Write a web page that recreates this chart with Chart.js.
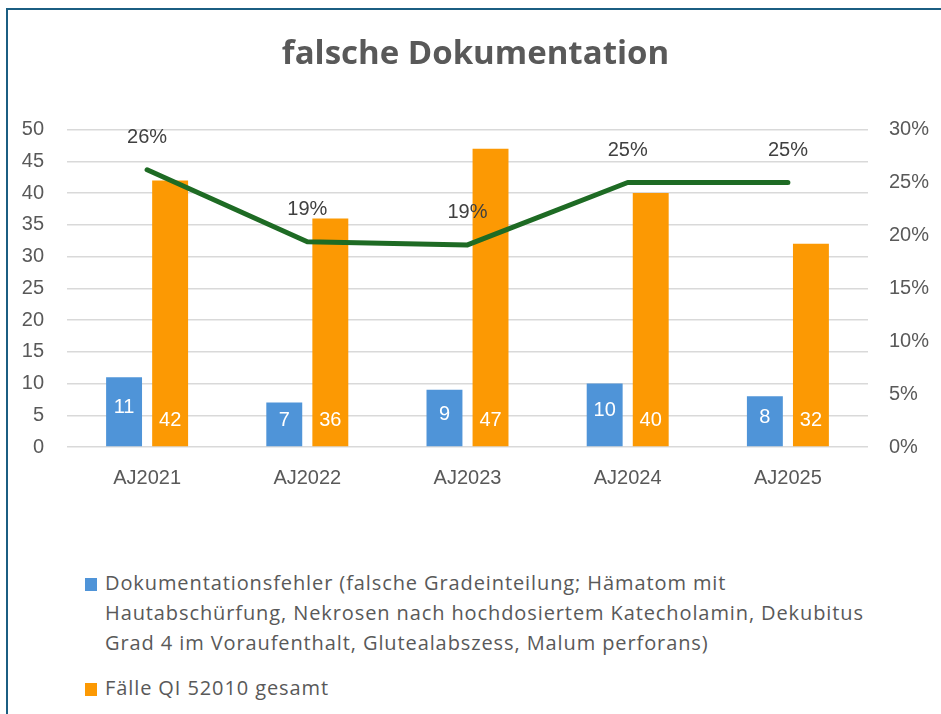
<!DOCTYPE html>
<html lang="de">
<head>
<meta charset="utf-8">
<title>falsche Dokumentation</title>
<script src="https://cdn.jsdelivr.net/npm/chart.js@4/dist/chart.umd.min.js"></script>
<style>
    html, body { margin: 0; padding: 0; background: #fff; }
    body { width: 941px; height: 714px; position: relative; overflow: hidden; }
    .frame {
        position: absolute; left: 6px; top: 8px; right: 0; bottom: 0;
        border-left: 2px solid #1b5e82; border-top: 2px solid #1b5e82;
    }
    #chartWrap { position: absolute; left: 0; top: 0; width: 941px; height: 520px; }
    #legend {
        position: absolute; left: 85px; top: 568px; width: 810px;
        font-family: 'Open Sans', sans-serif; font-size: 20px; line-height: 30px;
        letter-spacing: 0.9px; color: #595959;
    }
    .lg-item { position: relative; padding-left: 20px; margin-bottom: 15px; }
    .lg-box { position: absolute; left: 0; top: 10px; width: 12px; height: 13px; }
</style>
</head>
<body>
<div class="frame"></div>
<div id="chartWrap"><canvas id="docChart" width="941" height="520"></canvas></div>
<div id="legend"></div>

<script>
// ── Data ──────────────────────────────────────────────────────
const categories = ['AJ2021', 'AJ2022', 'AJ2023', 'AJ2024', 'AJ2025'];
const errorCounts = [11, 7, 9, 10, 8];
const caseCounts  = [42, 36, 47, 40, 32];
const errorRate   = [26.2, 19.4, 19.1, 25.0, 25.0];   // % (right axis)
const seriesNames = [
    'Dokumentationsfehler (falsche Gradeinteilung; Hämatom mit Hautabschürfung, Nekrosen nach hochdosiertem Katecholamin, Dekubitus Grad 4 im Voraufenthalt, Glutealabszess, Malum perforans)',
    'Fälle QI 52010 gesamt',
];
const countAxisMax = 50;
const rateAxisMax  = 30;

const BLUE   = '#4f94d8';
const ORANGE = '#fc9903';
const GREEN  = '#1e6b24';
const GREY   = '#595959';
const AXIS_FONT = { family: "'Liberation Sans', Arial, sans-serif", size: 20 };

// ── Labels on bars and line points ────────────────────────────
const valueLabels = {
    id: 'valueLabels',
    afterDatasetsDraw(chart) {
        const ctx = chart.ctx;
        ctx.save();
        ctx.font = "20px 'Liberation Sans', Arial, sans-serif";
        ctx.textAlign = 'center';
        ctx.textBaseline = 'middle';
        chart.data.datasets.forEach((ds, i) => {
            const meta = chart.getDatasetMeta(i);
            meta.data.forEach((el, j) => {
                const v = ds.data[j];
                if (ds.type === 'line') {
                    ctx.fillStyle = '#404040';
                    ctx.fillText(Math.round(v) + '%', el.x, el.y - 32);
                } else if (i === 0) {
                    ctx.fillStyle = '#ffffff';
                    ctx.fillText(v, el.x, (el.y + el.base) / 2 - 4);
                } else {
                    ctx.fillStyle = '#ffffff';
                    ctx.fillText(v, el.x, el.base - 26);
                }
            });
        });
        ctx.restore();
    },
};

// ── Chart ─────────────────────────────────────────────────────
const chart = new Chart(document.getElementById('docChart'), {
    type: 'bar',
    data: {
        labels: categories,
        datasets: [
            {
                label: seriesNames[0],
                data: errorCounts,
                backgroundColor: BLUE,
                yAxisID: 'y',
                order: 1,
                categoryPercentage: 0.575,
                barPercentage: 0.78,
            },
            {
                label: seriesNames[1],
                data: caseCounts,
                backgroundColor: ORANGE,
                yAxisID: 'y',
                order: 1,
                categoryPercentage: 0.575,
                barPercentage: 0.78,
            },
            {
                type: 'line',
                label: 'Anteil',
                data: errorRate,
                borderColor: GREEN,
                borderWidth: 5,
                borderCapStyle: 'round',
                borderJoinStyle: 'round',
                pointRadius: 0,
                tension: 0,
                fill: false,
                yAxisID: 'y1',
                order: 0,
            },
        ],
    },
    options: {
        responsive: false,
        animation: false,
        layout: { padding: { left: 10, right: 0, top: 0, bottom: 0 } },
        plugins: {
            legend: { display: false },
            tooltip: { enabled: false },
            title: {
                display: true,
                text: 'falsche Dokumentation',
                color: GREY,
                font: { family: "'Open Sans', sans-serif", size: 33, weight: 'bold' },
                padding: { top: 35, bottom: 55 },
            },
        },
        scales: {
            x: {
                grid: { display: false, drawTicks: false },
                border: { display: false },
                ticks: { color: GREY, font: AXIS_FONT, padding: 19 },
                afterFit: s => { s.height = 73; },
            },
            y: {
                position: 'left',
                min: 0, max: countAxisMax,
                grid: { color: '#d9d9d9', lineWidth: 1.5, drawTicks: false },
                border: { display: false },
                ticks: { stepSize: 5, color: GREY, font: AXIS_FONT, padding: 23 },
                afterFit: s => { s.width = 57; },
            },
            y1: {
                position: 'right',
                min: 0, max: rateAxisMax,
                grid: { display: false, drawTicks: false },
                border: { display: false },
                ticks: { stepSize: 5, color: GREY, font: AXIS_FONT, padding: 21, callback: v => v + '%' },
                afterFit: s => { s.width = 73; },
            },
        },
    },
    plugins: [valueLabels],
});

// ── Legend (HTML) ─────────────────────────────────────────────
const legendEl = document.getElementById('legend');
[BLUE, ORANGE].forEach((color, i) => {
    const item = document.createElement('div');
    item.className = 'lg-item';
    const box = document.createElement('span');
    box.className = 'lg-box';
    box.style.background = color;
    item.appendChild(box);
    item.appendChild(document.createTextNode(seriesNames[i]));
    legendEl.appendChild(item);
});
</script>
</body>
</html>
